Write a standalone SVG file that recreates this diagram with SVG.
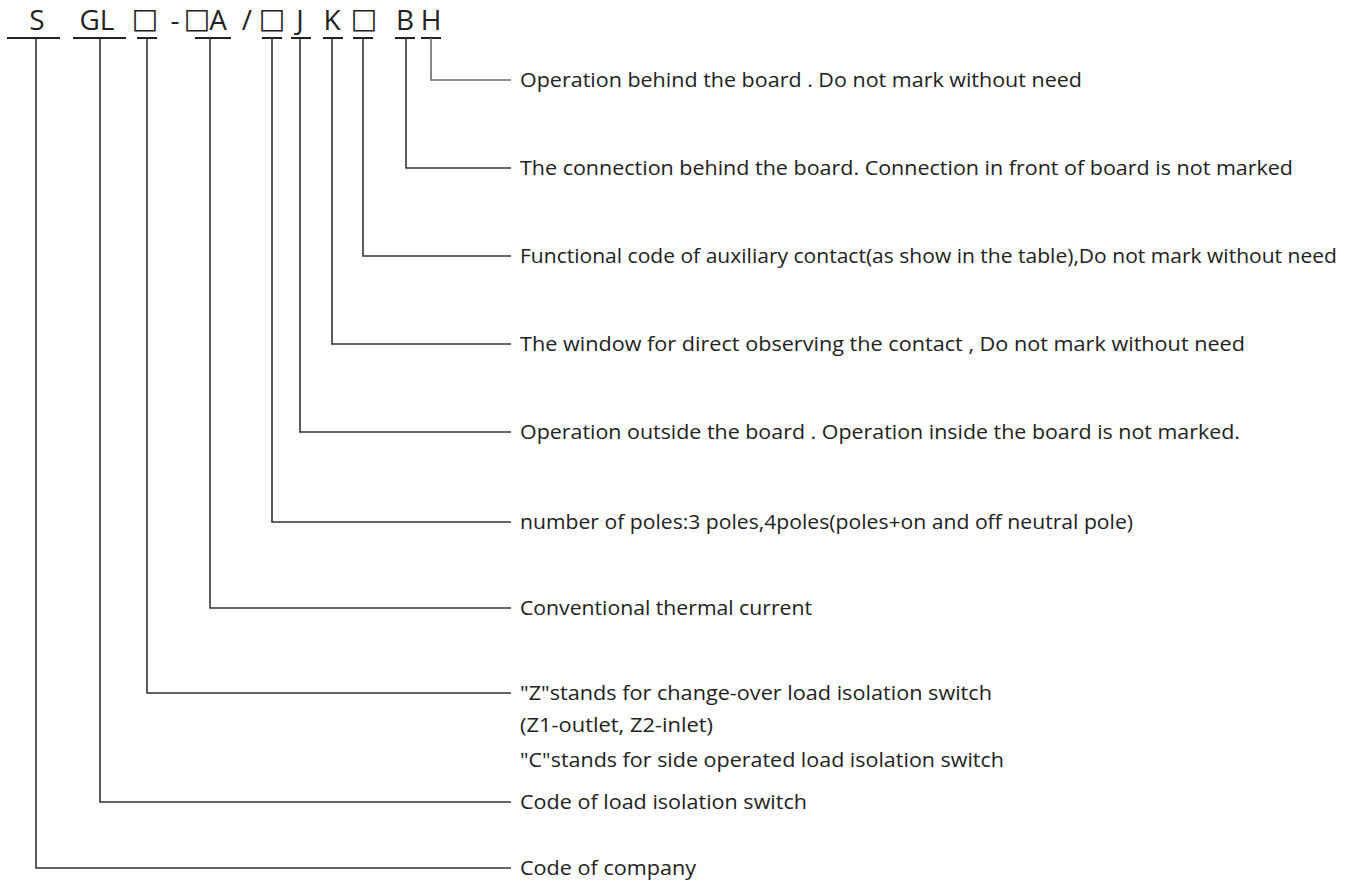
<svg xmlns="http://www.w3.org/2000/svg" width="1355" height="881" viewBox="0 0 1355 881">
<style>
.hdr{font-family:"Open Sans","Noto Sans","DejaVu Sans",sans-serif;font-size:28px;fill:#222;text-anchor:middle}
.sq{font-family:"DejaVu Sans",sans-serif;font-size:28px;fill:#222;text-anchor:middle}
.lbl{font-family:"Open Sans","Noto Sans",sans-serif;font-size:20px;fill:#222}
.ul{stroke:#222;stroke-width:2;fill:none}
.ln{stroke:#333;stroke-width:1.6;fill:none}
.lnl{stroke:#6a6a6a;stroke-width:1.6;fill:none}
</style>
<rect width="1355" height="881" fill="#fff"/>
<g id="header">
<text class="hdr" x="37" y="30">S</text>
<text class="hdr" x="97" y="30">GL</text>
<text class="sq" x="145" y="28">□</text>
<text class="hdr" x="175" y="30">-</text>
<text class="sq" x="197" y="28">□</text>
<text class="hdr" x="218" y="30">A</text>
<text class="hdr" x="247" y="30">/</text>
<text class="sq" x="272" y="28">□</text>
<text class="hdr" x="300" y="30">J</text>
<text class="hdr" x="332" y="30">K</text>
<text class="sq" x="364" y="28">□</text>
<text class="hdr" x="405" y="30">B</text>
<text class="hdr" x="431" y="30">H</text>
</g>
<g id="underlines">
<line class="ul" x1="7" y1="38" x2="60" y2="38"/>
<line class="ul" x1="73" y1="38" x2="126" y2="38"/>
<line class="ul" x1="137" y1="38" x2="157" y2="38"/>
<line class="ul" x1="195" y1="38" x2="231" y2="38"/>
<line class="ul" x1="262" y1="38" x2="282" y2="38"/>
<line class="ul" x1="291" y1="38" x2="311" y2="38"/>
<line class="ul" x1="323" y1="38" x2="343" y2="38"/>
<line class="ul" x1="353" y1="38" x2="373" y2="38"/>
<line class="ul" x1="395" y1="38" x2="415" y2="38"/>
<line class="ul" x1="421" y1="38" x2="441" y2="38"/>
</g>
<g id="connectors">
<polyline class="lnl" points="431,38 431,80 511,80"/>
<polyline class="ln" points="406,38 406,168 511,168"/>
<polyline class="ln" points="363,38 363,256 511,256"/>
<polyline class="ln" points="332,38 332,344 511,344"/>
<polyline class="ln" points="300,38 300,432 511,432"/>
<polyline class="ln" points="272,38 272,522 511,522"/>
<polyline class="ln" points="210,38 210,608 511,608"/>
<polyline class="ln" points="147,38 147,693 511,693"/>
<polyline class="ln" points="100,38 100,802 511,802"/>
<polyline class="ln" points="36,38 36,868 511,868"/>
</g>
<g id="label-H"><text class="lbl" x="520" y="87" textLength="562" lengthAdjust="spacingAndGlyphs">Operation behind the board . Do not mark without need</text></g>
<g id="label-B"><text class="lbl" x="520" y="175" textLength="773" lengthAdjust="spacingAndGlyphs">The connection behind the board. Connection in front of board is not marked</text></g>
<g id="label-aux"><text class="lbl" x="520" y="263" textLength="817" lengthAdjust="spacingAndGlyphs">Functional code of auxiliary contact(as show in the table),Do not mark without need</text></g>
<g id="label-K"><text class="lbl" x="520" y="351" textLength="725" lengthAdjust="spacingAndGlyphs">The window for direct observing the contact , Do not mark without need</text></g>
<g id="label-J"><text class="lbl" x="520" y="439" textLength="720" lengthAdjust="spacingAndGlyphs">Operation outside the board . Operation inside the board is not marked.</text></g>
<g id="label-poles"><text class="lbl" x="520" y="529" textLength="613" lengthAdjust="spacingAndGlyphs">number of poles:3 poles,4poles(poles+on and off neutral pole)</text></g>
<g id="label-A"><text class="lbl" x="520" y="615" textLength="292" lengthAdjust="spacingAndGlyphs">Conventional thermal current</text></g>
<g id="label-Z">
<text class="lbl" x="520" y="700" textLength="472" lengthAdjust="spacingAndGlyphs">"Z"stands for change-over load isolation switch</text>
<text class="lbl" x="520" y="732" textLength="193" lengthAdjust="spacingAndGlyphs">(Z1-outlet, Z2-inlet)</text>
<text class="lbl" x="520" y="767" textLength="484" lengthAdjust="spacingAndGlyphs">"C"stands for side operated load isolation switch</text>
</g>
<g id="label-GL"><text class="lbl" x="520" y="809" textLength="287" lengthAdjust="spacingAndGlyphs">Code of load isolation switch</text></g>
<g id="label-S"><text class="lbl" x="520" y="875" textLength="176" lengthAdjust="spacingAndGlyphs">Code of company</text></g>
</svg>
